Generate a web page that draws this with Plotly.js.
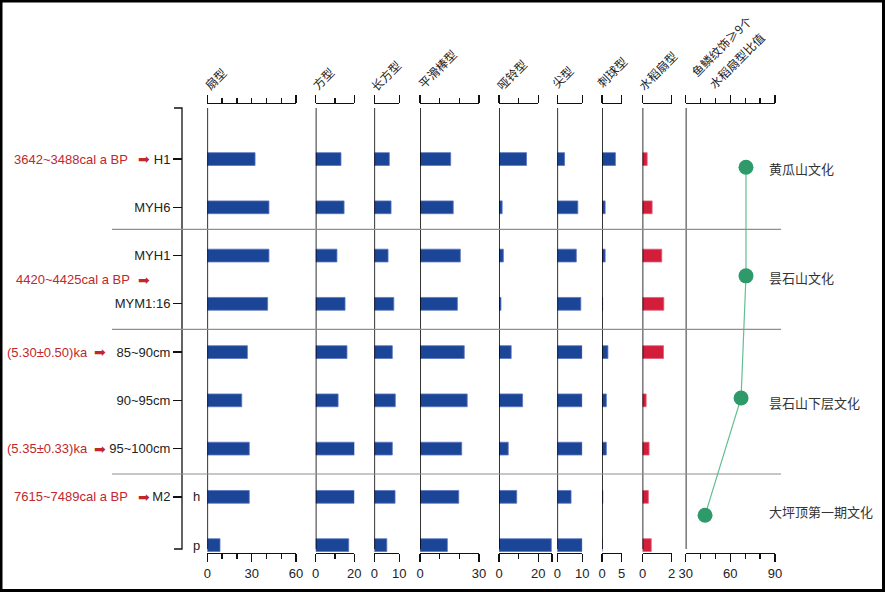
<!DOCTYPE html>
<html><head><meta charset="utf-8">
<script src="https://cdn.plot.ly/plotly-3.0.1.min.js"></script>
<style>body{margin:0;background:#fff}#chart{width:885px;height:593px}</style>
</head><body><div id="chart"></div>
<script>
// ---------------- data ----------------
const rows = ['H1','MYH6','MYH1','MYM1:16','85~90cm','90~95cm','95~100cm','M2 h','M2 p'];
const rowTicks = ['H1','MYH6','MYH1','MYM1:16','85~90cm','90~95cm','95~100cm','M2'];
const subLabels = ['h','p'];
const panelNames = ['扇型','方型','长方型','平滑棒型','哑铃型','尖型','刺球型','水稻扇型'];
const shan      = [32.3,41.7,41.7,40.8,27.1,23.3,28.4,28.4,8.6];
const fang      = [13.1,14.7,11.0,15.2,16.2,11.6,20.7,20.0,17.1];
const changfang = [6.0,6.7,5.5,7.8,7.2,8.4,7.2,8.3,5.0];
const pinghua   = [15.6,16.9,20.5,19.0,22.5,24.0,21.2,19.7,13.9];
const yaling    = [14.0,1.6,2.2,1.0,6.2,12.0,4.7,9.0,26.6];
const jian      = [2.9,8.2,7.6,9.4,9.9,9.9,9.9,5.5,9.9];
const ciqiu     = [3.4,0.8,0.8,0.15,1.5,1.1,1.1,0.2,0];
const shuidao   = [0.32,0.66,1.32,1.46,1.44,0.25,0.45,0.4,0.6];
const ratioTitle = ['鱼鳞纹饰≥9个','水稻扇型比值'];
const cultures  = ['黄瓜山文化','昙石山文化','昙石山下层文化','大坪顶第一期文化'];
const ratio     = [70.5,70.5,67.2,43.0];
const culturePos = [0.17,2.42,4.95,7.38];   // vertical position, in row units
const dateLabels = ['3642~3488cal a BP','4420~4425cal a BP','(5.30±0.50)ka','(5.35±0.33)ka','7615~7489cal a BP'];
const dateRowPos = [0,2.5,4,6,7];
const bottomTickVals = [[0,30,60],[0,20],[0,10],[0,30],[0,20,27],[0,10],[0,5],[0,2],[30,60,90]];
const bottomTickText = [['0','30','60'],['0','20'],['0','10'],['0','30'],['0','20',''],['0','10'],['0','5'],['0','2'],['30','60','90']];

// ---------------- layout helpers ----------------
const W = 885, H = 593;
const px = x => x / W, py = y => 1 - y / H;
const series = [shan,fang,changfang,pinghua,yaling,jian,ciqiu,shuidao];
const colors = ['#1b4597','#1b4597','#1b4597','#1b4597','#1b4597','#1b4597','#1b4597','#d21d3b'];
const lines  = ['#5a74c2','#5a74c2','#5a74c2','#5a74c2','#5a74c2','#5a74c2','#5a74c2','#e0607a'];
const dom = [[207.3,296],[315.7,354.3],[374.3,399.3],[420,479],[499,552.1],[557.3,582.3],[602,621.7],[642.5,671.7],[685.7,775]];
const topDom = [[207.3,296],[315.7,354.3],[374.3,399.3],[420,479],[499,538.3],[557.3,582.3],[602,621.7],[642.5,671.7],[685.7,775]];
const ranges = [[0,60],[0,20],[0,10],[0,30],[0,27],[0,10],[0,5],[0,2],[30,90]];
const topRanges = [[0,60],[0,20],[0,10],[0,30],[0,20],[0,10],[0,5],[0,2],[30,90]];
const topMajor = [[0,60],[0,20],[0,10],[0,30],[0,20],[0,10],[0,5],[0,2],[30,60,90]];
const minorVals = [[10,20,30,40,50],[10],[],[10,20],[10],[],[],[],[40,50,70,80]];
const yTop = 108, yBot = 549, axTop = 104, axBot = 553;
const rA = 159.05, rB = 48.26;                 // row pixel = rA + rB*index
const yRange = [(axBot - rA) / rB, (axTop - rA) / rB];
const axColor = '#111';
const latin = 'Liberation Sans, Arial, sans-serif';
const cjk = 'Noto Sans CJK SC, sans-serif';

const data = [];
series.forEach((vals, k) => {
  data.push({
    type: 'bar', orientation: 'h', x: vals, y: rows,
    xaxis: 'x' + (k + 1), yaxis: 'y', width: 0.265,
    marker: {color: colors[k], line: {color: lines[k], width: 0.8}},
    hoverinfo: 'skip'
  });
});
data.push({
  type: 'scatter', mode: 'lines+markers', x: ratio, y: culturePos,
  xaxis: 'x9', yaxis: 'y2',
  line: {color: '#62bf90', width: 1.2},
  marker: {color: '#2e9a69', size: 15},
  hoverinfo: 'skip'
});

const layout = {
  width: W, height: H, margin: {l: 0, r: 0, t: 0, b: 0},
  paper_bgcolor: '#fff', plot_bgcolor: 'rgba(0,0,0,0)',
  showlegend: false, barmode: 'overlay',
  yaxis: {
    type: 'category', categoryorder: 'array', categoryarray: rows,
    domain: [py(axBot), py(axTop)], range: yRange,
    anchor: 'free', position: px(182),
    showline: false,
    ticks: 'outside', ticklen: 9, tickwidth: 1.3, tickcolor: axColor,
    tickmode: 'array', tickvals: rows.slice(0, 8), ticktext: rowTicks,
    tickfont: {family: latin, size: 13, color: '#222'},
    showgrid: false, zeroline: false, fixedrange: true
  },
  yaxis2: {
    overlaying: 'y', range: yRange, visible: false, anchor: 'x9', fixedrange: true
  },
  shapes: [], annotations: []
};

for (let k = 0; k < 9; k++) {
  const common = {
    showline: true, linecolor: axColor, linewidth: 1.3,
    ticks: 'outside', tickwidth: 1.3, tickcolor: axColor,
    showgrid: false, zeroline: false, fixedrange: true, anchor: 'y'
  };
  layout['xaxis' + (k + 1)] = Object.assign({}, common, {
    domain: [px(dom[k][0]), px(dom[k][1])], range: ranges[k], side: 'bottom',
    tickmode: 'array', tickvals: bottomTickVals[k], ticktext: bottomTickText[k], ticklen: 8,
    tickfont: {family: latin, size: 13, color: '#222'},
    minor: {tickmode: 'array', tickvals: minorVals[k], ticks: 'outside', ticklen: 5, tickwidth: 1.3, tickcolor: axColor, showgrid: false}
  });
  layout['xaxis' + (k + 10)] = Object.assign({}, common, {
    domain: [px(topDom[k][0]), px(topDom[k][1])], range: topRanges[k], side: 'top',
    tickmode: 'array', tickvals: topMajor[k], ticklen: 7.5, showticklabels: false,
    minor: {tickmode: 'array', tickvals: minorVals[k].filter(v => v <= topRanges[k][1]), ticks: 'outside', ticklen: 5, tickwidth: 1.3, tickcolor: axColor, showgrid: false}
  });
  // vertical base line of each panel (referenced to the top axis, which shares its origin)
  layout.shapes.push({type: 'line', xref: 'x' + (k + 10), yref: 'paper',
    x0: topRanges[k][0], x1: topRanges[k][0], y0: py(yBot), y1: py(yTop),
    line: {color: '#000', width: 1.6}});
}
// left bracket axis for the sample rows
layout.shapes.push({type: 'path', xref: 'paper', yref: 'paper',
  path: `M ${px(174)} ${py(yTop)} L ${px(182)} ${py(yTop)} L ${px(182)} ${py(yBot)} L ${px(174)} ${py(yBot)}`,
  line: {color: axColor, width: 1.3}});
// group separators
[229.3, 329.3, 474].forEach(v => layout.shapes.push({type: 'line', xref: 'paper', yref: 'paper',
  x0: px(112), x1: px(781), y0: py(v), y1: py(v), line: {color: '#8f8f8f', width: 1.2}}));
// outer frame
layout.shapes.push({type: 'rect', xref: 'paper', yref: 'paper', x0: px(1), x1: px(883.5), y0: py(590.5), y1: py(1),
  line: {color: '#000', width: 3}});

// panel titles (rotated)
const titleCenters = [[215,78.5],[322.5,78.5],[385,75],[437,68.5],[511,74],[562,76.5],[612,72],[657,70]];
panelNames.forEach((t, k) => layout.annotations.push({text: t, xref: 'paper', yref: 'paper',
  x: px(titleCenters[k][0]), y: py(titleCenters[k][1]), xanchor: 'center', yanchor: 'middle',
  textangle: -45, showarrow: false, font: {family: cjk, size: 12, color: '#222'}}));
const ratioCenters = [[721.7,45.8],[735.8,60]];
ratioTitle.forEach((t, k) => layout.annotations.push({text: t, xref: 'paper', yref: 'paper',
  x: px(ratioCenters[k][0]), y: py(ratioCenters[k][1]), xanchor: 'center', yanchor: 'middle',
  textangle: -45, showarrow: false, font: {family: cjk, size: 12, color: '#222'}}));

// sub labels h / p
subLabels.forEach((t, k) => layout.annotations.push({text: t, xref: 'paper', yref: 'y',
  x: px(196), y: 7 + k, xanchor: 'center', yanchor: 'middle', showarrow: false,
  font: {family: latin, size: 13, color: '#222'}}));

// red dating labels with arrows
const dateRight = [130, 131.5, 89.5, 89.5, 130];
const arrowX = [143.8, 143.8, 99.5, 99.5, 143.8];
dateLabels.forEach((t, k) => {
  layout.annotations.push({text: t, xref: 'paper', yref: 'y', x: px(dateRight[k]), y: dateRowPos[k],
    xanchor: 'right', yanchor: 'middle', showarrow: false, font: {family: latin, size: 13, color: '#c1272d'}});
  layout.annotations.push({text: '➡', xref: 'paper', yref: 'y', x: px(arrowX[k]), y: dateRowPos[k],
    xanchor: 'center', yanchor: 'middle', showarrow: false, font: {family: 'DejaVu Sans', size: 14, color: '#c1272d'}});
});

// culture labels
const cultureLabelY = [168, 277, 402.5, 511.5];
cultures.forEach((t, k) => layout.annotations.push({text: t, xref: 'paper', yref: 'paper',
  x: px(766.5), y: py(cultureLabelY[k]), xanchor: 'left', yanchor: 'middle', showarrow: false,
  font: {family: cjk, size: 13, color: '#333'}}));

Plotly.newPlot('chart', data, layout, {staticPlot: true, displayModeBar: false});
</script>
</body></html>
